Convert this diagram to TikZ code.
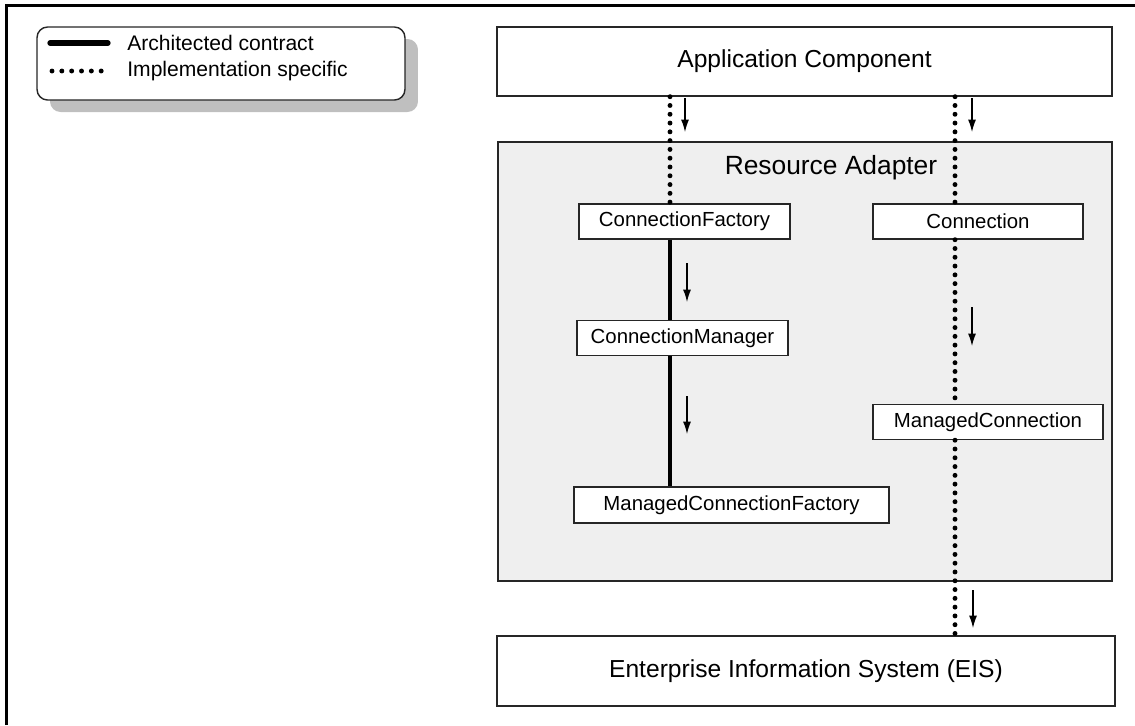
\documentclass[tikz,border=0pt]{standalone}
\usepackage{fontspec}
\setmainfont{Liberation Sans}
\usetikzlibrary{arrows.meta}
\usetikzlibrary{shadows}
\definecolor{AdapterGray}{HTML}{EFEFEF}
\definecolor{ShadowGray}{HTML}{BFBFBF}
\tikzstyle{TierNode}=[rectangle, draw=black!85, line width=0.8pt, fill=white, inner sep=0pt, font=\fontsize{14}{16}\selectfont]
\tikzstyle{AdapterNode}=[TierNode, fill=AdapterGray]
\tikzstyle{ClassNode}=[rectangle, draw=black!85, line width=0.8pt, fill=white, inner sep=0pt, minimum height=0.7cm, font=\fontsize{11.6}{13}\selectfont]
\tikzstyle{LegendNode}=[rectangle, rounded corners=6pt, draw=black!85, line width=0.8pt, fill=white, drop shadow={shadow xshift=0.26cm, shadow yshift=-0.24cm, fill=ShadowGray, opacity=1}]
\tikzstyle{LegendText}=[anchor=west, inner sep=0pt, font=\fontsize{12}{14}\selectfont]
\tikzstyle{ContractEdge}=[line width=2.7pt]
\tikzstyle{SpecificEdge}=[line width=2.8pt, line cap=round, dash pattern=on 0pt off 5pt]
\tikzstyle{CallArrow}=[->, line width=0.7pt]
\tikzset{>={Latex[length=7pt,width=4.5pt]}}

\begin{document}
\begin{tikzpicture}[x=0.02cm, y=-0.02cm]
\useasboundingbox (0,0) rectangle (1135,725);
\draw[line width=1.7pt] (6.5,725) -- (6.5,5.5) -- (1135,5.5);

% legend
\node[LegendNode, minimum width=7.36cm, minimum height=1.46cm](Legend) at (221,63.5) {};
\coordinate (SolidA) at (50,43);
\coordinate (SolidB) at (108,43);
\coordinate (DotA) at (52,71);
\coordinate (DotB) at (107,71);
\draw[ContractEdge, line width=3pt, line cap=round](SolidA) -- (SolidB);
\draw[SpecificEdge, dash pattern=on 0pt off 5.6pt](DotA) -- (DotB);
\node[LegendText](ArchLabel) at (127,43) {Architected contract};
\node[LegendText](ImplLabel) at (127,71) {Implementation specific};

% tiers
\node[TierNode, minimum width=12.3cm, minimum height=1.38cm](AppComp) at (804.5,61.5) {Application Component};
\node[AdapterNode, minimum width=12.28cm, minimum height=8.78cm](Adapter) at (805,361.5) {};
\node[font=\fontsize{15}{18}\selectfont](AdapterTitle) at (831,168) {Resource Adapter};
\node[TierNode, minimum width=12.36cm, minimum height=1.4cm](EIS) at (806,671) {Enterprise Information System (EIS)};

% classes
\node[ClassNode, minimum width=4.22cm](ConnFactory) at (684.5,221.5) {ConnectionFactory};
\node[ClassNode, minimum width=4.2cm](Conn) at (978,221.5) {Connection};
\node[ClassNode, minimum width=4.22cm](ConnManager) at (682.5,338) {ConnectionManager};
\node[ClassNode, minimum width=4.6cm](ManagedConn) at (988,422) {ManagedConnection};
\node[ClassNode, minimum width=6.3cm, minimum height=0.72cm](ManagedConnFactory) at (731.5,505) {ManagedConnectionFactory};

% lanes
\coordinate (LeftLane) at (670,0);
\coordinate (RightLane) at (955,0);
\draw[SpecificEdge](AppComp.south -| LeftLane) -- (ConnFactory.north -| LeftLane);
\draw[ContractEdge](ConnFactory.south -| LeftLane) -- (ConnManager.north -| LeftLane);
\draw[ContractEdge](ConnManager.south -| LeftLane) -- (ManagedConnFactory.north -| LeftLane);
\draw[SpecificEdge](AppComp.south -| RightLane) -- (Conn.north -| RightLane);
\draw[SpecificEdge](Conn.south -| RightLane) -- (ManagedConn.north -| RightLane);
\draw[SpecificEdge](ManagedConn.south -| RightLane) -- (EIS.north -| RightLane);

% call direction
\draw[CallArrow](685,98) -- (685,132);
\draw[CallArrow](972,98) -- (972,132);
\draw[CallArrow](687,263) -- (687,302);
\draw[CallArrow](687,396) -- (687,434);
\draw[CallArrow](972,307) -- (972,346);
\draw[CallArrow](973,590) -- (973,628);
\end{tikzpicture}
\end{document}
